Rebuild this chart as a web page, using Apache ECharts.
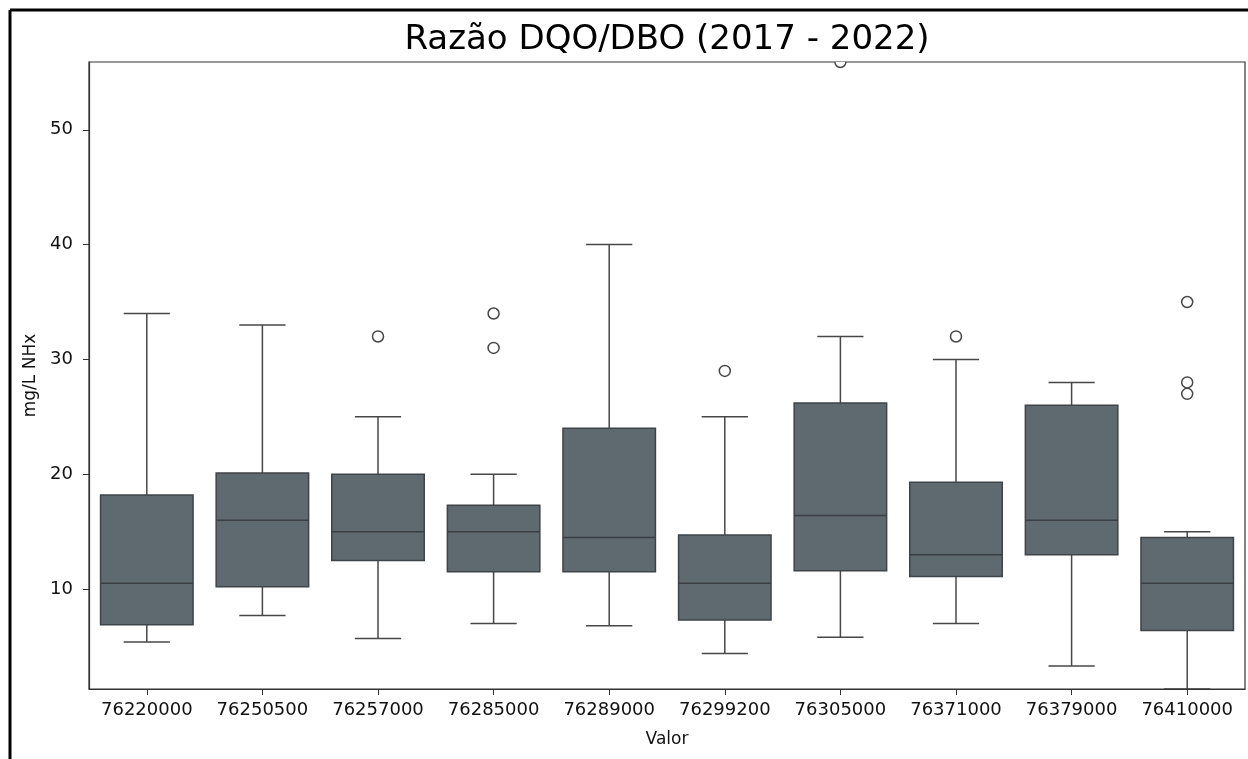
<!DOCTYPE html>
<html>
<head>
<meta charset="utf-8">
<title>Razão DQO/DBO</title>
<script src="https://cdn.jsdelivr.net/npm/echarts@6/dist/echarts.min.js"></script>
<style>
    html, body { margin: 0; padding: 0; background: #fff; }
    #chart { width: 1248px; height: 759px; }
</style>
</head>
<body>
<div id="chart"></div>
<script>
// estações (eixo x)
var stations = ['76220000', '76250500', '76257000', '76285000', '76289000',
                '76299200', '76305000', '76371000', '76379000', '76410000'];
// resumo de cada caixa
var whiskerLow  = [5.4, 7.7, 5.7, 7.0, 6.8, 4.4, 5.8, 7.0, 3.3, 1.3];
var quartil1    = [6.9, 10.2, 12.5, 11.5, 11.5, 7.3, 11.6, 11.1, 13.0, 6.4];
var medians     = [10.5, 16.0, 15.0, 15.0, 14.5, 10.5, 16.4, 13.0, 16.0, 10.5];
var quartil3    = [18.2, 20.1, 20.0, 17.3, 24.0, 14.7, 26.2, 19.3, 26.0, 14.5];
var whiskerHigh = [34, 33, 25, 20, 40, 25, 32, 30, 28, 15];
// pontos fora das caixas
var outliers = [[], [], [32], [34, 31], [], [29], [55.9], [32], [], [35, 28, 27]];
// eixo y
var yTicks = [10, 20, 30, 40, 50];
var yMin = 1.3;
var yMax = 55.9;

var boxFill = '#5f6970';
var lineColor = '#474747';
var fontName = 'DejaVu Sans';

// monta dados para as series
var boxData = [];
for (var i = 0; i < stations.length; i++) {
    boxData.push([i, whiskerLow[i], quartil1[i], medians[i], quartil3[i], whiskerHigh[i]]);
}
var outlierData = [];
outliers.forEach(function (list, i) {
    list.forEach(function (v) {
        outlierData.push([i, v]);
    });
});

// desenha uma caixa no estilo seaborn
function renderBox(params, api) {
    var x = api.value(0);
    var pLow = api.coord([x, api.value(1)]);
    var pQ1 = api.coord([x, api.value(2)]);
    var pMed = api.coord([x, api.value(3)]);
    var pQ3 = api.coord([x, api.value(4)]);
    var pHigh = api.coord([x, api.value(5)]);
    var bw = api.size([1, 0])[0] * 0.8;
    var cx = pMed[0];
    var lineStyle = { stroke: lineColor, lineWidth: 1.5 };
    return {
        type: 'group',
        children: [
            { type: 'line', shape: { x1: cx, y1: pQ3[1], x2: cx, y2: pHigh[1] }, style: lineStyle },
            { type: 'line', shape: { x1: cx, y1: pQ1[1], x2: cx, y2: pLow[1] }, style: lineStyle },
            { type: 'line', shape: { x1: cx - bw / 4, y1: pHigh[1], x2: cx + bw / 4, y2: pHigh[1] }, style: lineStyle },
            { type: 'line', shape: { x1: cx - bw / 4, y1: pLow[1], x2: cx + bw / 4, y2: pLow[1] }, style: lineStyle },
            {
                type: 'rect',
                shape: { x: cx - bw / 2, y: pQ3[1], width: bw, height: pQ1[1] - pQ3[1] },
                style: { fill: boxFill, stroke: '#3f4448', lineWidth: 1.5 }
            },
            { type: 'line', shape: { x1: cx - bw / 2, y1: pMed[1], x2: cx + bw / 2, y2: pMed[1] }, style: { stroke: '#3a3f43', lineWidth: 1.5 } }
        ]
    };
}

function renderOutlier(params, api) {
    var p = api.coord([api.value(0), api.value(1)]);
    return {
        type: 'circle',
        shape: { cx: p[0], cy: p[1], r: 5.5 },
        style: { fill: '#fff', stroke: lineColor, lineWidth: 1.5 }
    };
}

var chart = echarts.init(document.getElementById('chart'));
var option = {
    animation: false,
    backgroundColor: '#fff',
    textStyle: { fontFamily: fontName },
    title: {
        text: 'Razão DQO/DBO (2017 - 2022)',
        left: 662,
        textAlign: 'center',
        top: 18,
        textStyle: { fontFamily: fontName, fontSize: 34, fontWeight: 'normal', color: '#000' }
    },
    grid: {
        left: 89,
        right: 3,
        top: 62,
        bottom: 70,
        show: true,
        borderColor: '#333',
        borderWidth: 1.2,
        backgroundColor: 'transparent'
    },
    xAxis: {
        type: 'category',
        data: stations,
        name: 'Valor',
        nameLocation: 'middle',
        nameGap: 42,
        nameTextStyle: { fontFamily: fontName, fontSize: 17, color: '#111' },
        axisLine: { show: true, lineStyle: { color: '#333', width: 1.2 } },
        axisTick: { show: true, alignWithLabel: true, length: 6, lineStyle: { color: '#333' } },
        axisLabel: { fontFamily: fontName, fontSize: 18, color: '#111', margin: 12, interval: 0, hideOverlap: false },
        splitLine: { show: false }
    },
    yAxis: {
        type: 'value',
        min: yMin,
        max: yMax,
        name: 'mg/L NHx',
        nameLocation: 'middle',
        nameGap: 45,
        nameTextStyle: { fontFamily: fontName, fontSize: 17, color: '#111' },
        axisLine: { show: true, lineStyle: { color: '#333', width: 1.2 } },
        axisTick: { show: true, length: 6, customValues: yTicks, lineStyle: { color: '#333' } },
        axisLabel: { fontFamily: fontName, fontSize: 18, color: '#111', margin: 16, customValues: yTicks },
        splitLine: { show: false }
    },
    series: [
        {
            type: 'custom',
            name: 'caixas',
            renderItem: renderBox,
            encode: { x: 0, y: [1, 2, 3, 4, 5] },
            data: boxData,
            clip: true,
            z: 2
        },
        {
            type: 'custom',
            name: 'outliers',
            renderItem: renderOutlier,
            encode: { x: 0, y: 1 },
            data: outlierData,
            clip: true,
            z: 3
        }
    ],
    graphic: [
        // moldura preta do recorte original
        { type: 'line', shape: { x1: 10, y1: 10, x2: 1248, y2: 10 }, style: { stroke: '#000', lineWidth: 3 } },
        { type: 'line', shape: { x1: 10, y1: 10, x2: 10, y2: 759 }, style: { stroke: '#000', lineWidth: 3 } }
    ]
};
chart.setOption(option);
</script>
</body>
</html>
